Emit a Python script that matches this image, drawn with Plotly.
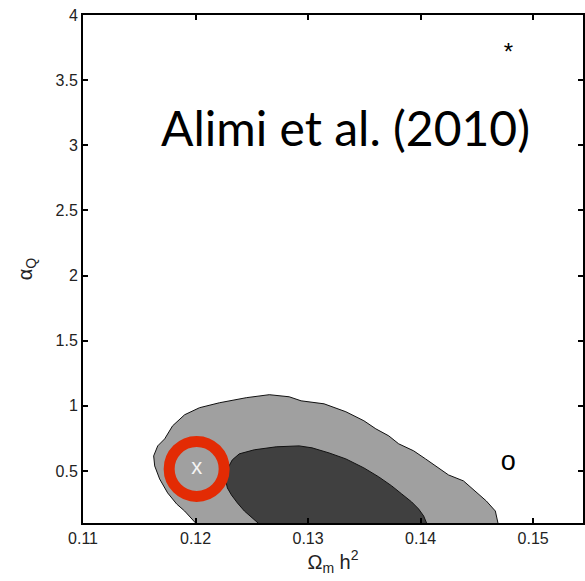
import plotly.graph_objects as go

# Outer (light) confidence region boundary in (Omega_m h^2, alpha_Q)
outer_x = [0.12009, 0.11903, 0.11832, 0.11752, 0.11681, 0.11637, 0.11628, 0.11664,
           0.11726, 0.11796, 0.11903, 0.12035, 0.12212, 0.12451, 0.12655, 0.12832,
           0.12938, 0.13142, 0.13336, 0.13496, 0.13602, 0.13717, 0.13805, 0.13938,
           0.14044, 0.14159, 0.14248, 0.14381, 0.14487, 0.14584, 0.14664, 0.1470,
           0.1470, 0.1203]
outer_y = [0.092, 0.192, 0.246, 0.331, 0.438, 0.538, 0.615, 0.692,
           0.746, 0.846, 0.931, 0.985, 1.023, 1.062, 1.085, 1.069,
           1.038, 1.015, 0.954, 0.885, 0.823, 0.769, 0.708, 0.654,
           0.592, 0.523, 0.469, 0.423, 0.346, 0.269, 0.192, 0.05,
           0.0, 0.0]

# Inner (dark) confidence region boundary
inner_x = [0.12566, 0.12496, 0.12434, 0.12372, 0.12319, 0.12283, 0.12265, 0.12283,
           0.12327, 0.12389, 0.12522, 0.12717, 0.12920, 0.13035, 0.13186, 0.13336,
           0.13496, 0.13628, 0.13743, 0.13832, 0.13920, 0.13982, 0.14027, 0.14053,
           0.1406, 0.1406, 0.1258]
inner_y = [0.092, 0.146, 0.192, 0.254, 0.315, 0.369, 0.438, 0.515,
           0.585, 0.631, 0.662, 0.685, 0.692, 0.677, 0.638, 0.592,
           0.523, 0.454, 0.385, 0.323, 0.262, 0.208, 0.154, 0.100,
           0.05, 0.0, 0.0]

# Marked points
best_fit = (0.1201, 0.515)
circle_pt = (0.1478, 0.56)
star_pt = (0.1478, 3.70)

x_ticks = [0.11, 0.12, 0.13, 0.14, 0.15]
y_ticks = [0.5, 1, 1.5, 2, 2.5, 3, 3.5, 4]
y_tick_text = ["0.5", "1", "1.5", "2", "2.5", "3", "3.5", "4"]

fig = go.Figure()

fig.add_trace(go.Scatter(
    x=outer_x, y=outer_y, mode="lines", fill="toself",
    fillcolor="#A0A0A0", line=dict(color="#111111", width=1),
    hoverinfo="skip", showlegend=False))
fig.add_trace(go.Scatter(
    x=inner_x, y=inner_y, mode="lines", fill="toself",
    fillcolor="#404040", line=dict(color="#111111", width=1),
    hoverinfo="skip", showlegend=False))

# Red ring around the best-fit point
fig.add_trace(go.Scatter(
    x=[best_fit[0]], y=[best_fit[1]], mode="markers+text",
    marker=dict(symbol="circle-open", size=55, line=dict(color="#E32B04", width=11),
                color="#E32B04"),
    text=["x"], textposition="middle center",
    textfont=dict(family="Liberation Sans, Arial", size=22, color="#F4F4F4"),
    cliponaxis=False, showlegend=False, hoverinfo="skip"))

fig.add_trace(go.Scatter(
    x=[circle_pt[0]], y=[circle_pt[1]], mode="text", text=["o"],
    textfont=dict(family="Liberation Sans, Arial", size=27, color="black"),
    showlegend=False, hoverinfo="skip"))
fig.add_trace(go.Scatter(
    x=[star_pt[0]], y=[star_pt[1]], mode="text", text=["*"],
    textfont=dict(family="Liberation Sans, Arial", size=24, color="black"),
    showlegend=False, hoverinfo="skip"))

fig.add_annotation(
    x=0.1333, y=3.14, xref="x", yref="y", text="Alimi et al. (2010)",
    showarrow=False, font=dict(family="Lato, Open Sans", size=48, color="black"))

axis_common = dict(
    showline=True, linecolor="black", linewidth=2, mirror="ticks",
    ticks="inside", ticklen=5, tickwidth=1.5, tickcolor="black",
    showgrid=False, zeroline=False,
    tickfont=dict(family="Liberation Sans, Arial", size=16, color="#222222"))

fig.update_layout(
    width=585, height=581,
    margin=dict(l=83, r=0, t=15, b=58),
    plot_bgcolor="white", paper_bgcolor="white",
    xaxis=dict(range=[0.11, 0.15443], tickvals=x_ticks,
               ticktext=[f"{v:.2f}" for v in x_ticks],
               title=dict(text="Ω<sub>m</sub> h<sup>2</sup>", standoff=4,
                          font=dict(family="Liberation Sans, Arial", size=20, color="#222222")),
               **axis_common),
    yaxis=dict(range=[0.1, 4], tickvals=y_ticks, ticktext=y_tick_text,
               title=dict(text="α<sub>Q</sub>", standoff=18,
                          font=dict(family="Liberation Sans, Arial", size=20, color="#222222")),
               **axis_common),
)

fig.write_html("out.html")
